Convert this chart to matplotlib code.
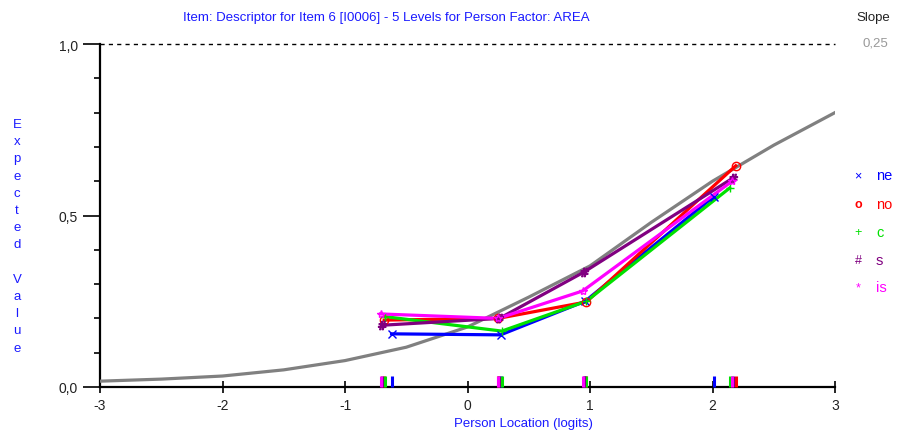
import matplotlib
matplotlib.use("Agg")
import matplotlib.pyplot as plt
import numpy as np

plt.rcParams['font.family'] = ['Liberation Sans', 'DejaVu Sans']

# expected value curve
curve_x = [-3.0, -2.5, -2.0, -1.5, -1.0, -0.5, 0.0, 0.5, 1.0, 1.5, 2.0, 2.5, 3.0]
curve_y = [0.017, 0.023, 0.032, 0.050, 0.077, 0.116, 0.175, 0.262, 0.353, 0.48, 0.60, 0.705, 0.80]

# class interval means per person factor level
groups = ['ne', 'no', 'c', 's', 'is']
ne_x = [-0.62, 0.27, 0.96, 2.01]
ne_y = [0.155, 0.152, 0.25, 0.555]
no_x = [-0.68, 0.25, 0.97, 2.19]
no_y = [0.195, 0.20, 0.248, 0.645]
c_x = [-0.67, 0.28, 0.97, 2.14]
c_y = [0.205, 0.163, 0.25, 0.58]
s_x = [-0.70, 0.26, 0.95, 2.17]
s_y = [0.18, 0.20, 0.335, 0.61]
is_x = [-0.71, 0.25, 0.94, 2.16]
is_y = [0.213, 0.20, 0.28, 0.60]

series_x = [ne_x, no_x, c_x, s_x, is_x]
series_y = [ne_y, no_y, c_y, s_y, is_y]
colors = ['#0000ff', '#ff0000', '#00e000', '#800080', '#ff00ff']
markers = ['x', 'o', '+', '$\\#$', '*']
legend_syms = ['×', 'o', '+', '#', '*']

fig = plt.figure(figsize=(9.14, 4.35), dpi=100)
ax = fig.add_axes([100 / 914, 47 / 435, 735 / 914, 343 / 435])

ax.plot(curve_x, curve_y, color='#808080', lw=2.3, zorder=2)
ax.plot([-3, 3], [1.0, 1.0], color='black', lw=1, ls=(0, (3, 3)), clip_on=False)

for xs, ys, col, mk in zip(series_x, series_y, colors, markers):
    ax.plot(xs, ys, color=col, lw=2.3, zorder=3)
    ax.plot(xs, ys, ls='none', marker=mk, color=col, ms=6, mfc='none', mew=1, zorder=4)
    ax.vlines(xs, 0.0, 0.033, colors=col, lw=2.2, zorder=5, clip_on=False)

ax.set_xlim(-3, 3)
ax.set_ylim(0, 1)
for side in ['top', 'right']:
    ax.spines[side].set_visible(False)
for side in ['left', 'bottom']:
    ax.spines[side].set_linewidth(1.6)
    ax.spines[side].set_zorder(1)

ax.set_xticks(range(-3, 4))
ax.set_xticklabels([str(v) for v in range(-3, 4)])
ax.tick_params(axis='x', direction='inout', length=8, width=1.2, pad=4,
               labelsize=10, labelcolor='#222222')
ax.set_yticks([0.0, 0.5, 1.0])
ax.set_yticklabels(['0,0', '0,5', '1,0'])
ax.set_yticks(np.arange(0, 1.0, 0.1), minor=True)
ax.tick_params(axis='y', which='major', direction='out', length=12, width=1.2, pad=4,
               labelsize=10, labelcolor='#222222')
ax.tick_params(axis='y', which='minor', direction='out', length=4, width=1.2)

fig.text(386 / 914, 1 - 18 / 435, 'Item: Descriptor for Item 6 [I0006] - 5 Levels for Person Factor: AREA',
         color='#1a1aff', fontsize=9.5, ha='center', va='center')
fig.text(523 / 914, 1 - 424 / 435, 'Person Location (logits)', color='#1a1aff',
         fontsize=9.5, ha='center', va='center')

ylabel = 'Expected Value'
for i, ch in enumerate(ylabel):
    if ch == ' ':
        continue
    fig.text(17 / 914, 1 - (125 + 17.2 * i) / 435, ch, color='#1a1aff',
             fontsize=9.5, ha='center', va='center')

fig.text(873 / 914, 1 - 18 / 435, 'Slope', color='#222222', fontsize=9.5, ha='center', va='center')
fig.text(875 / 914, 1 - 43 / 435, '0,25', color='#999999', fontsize=9.5, ha='center', va='center')

legend_ys = [176, 205, 233, 261, 288]
for name, sym, col, ly in zip(groups, legend_syms, colors, legend_ys):
    fig.text(858 / 914, 1 - ly / 435, sym, color=col, fontsize=9, ha='center', va='center',
             fontweight='bold' if sym == 'o' else 'normal')
    fig.text(876 / 914, 1 - ly / 435, name, color=col, fontsize=10.5, ha='left', va='center')

fig.savefig('out.png', dpi=100)
